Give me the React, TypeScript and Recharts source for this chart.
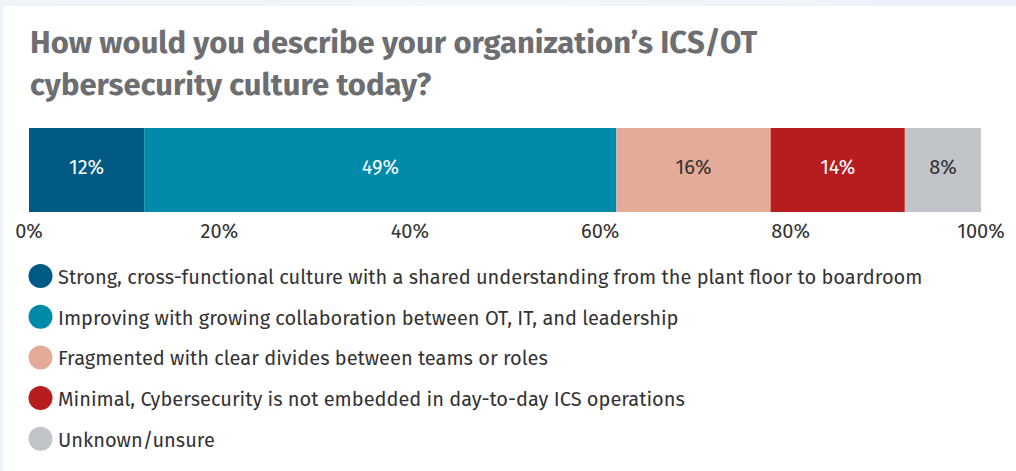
import { BarChart, Bar, XAxis, YAxis, LabelList } from "recharts";

// answer options, in stack order
const options = [
  "Strong, cross-functional culture with a shared understanding from the plant floor to boardroom",
  "Improving with growing collaboration between OT, IT, and leadership",
  "Fragmented with clear divides between teams or roles",
  "Minimal, Cybersecurity is not embedded in day-to-day ICS operations",
  "Unknown/unsure",
];
// share of respondents (%)
const shares = [12.1, 49.6, 16.2, 14.1, 8.0];
// labels as printed on the bar
const shareLabels = ["12%", "49%", "16%", "14%", "8%"];
const xTicks = [0, 20, 40, 60, 80, 100];

const colors = ["#005A84", "#008AAA", "#E4AC98", "#B71D1E", "#C1C4C8"];
const labelColors = ["#ffffff", "#ffffff", "#333333", "#ffffff", "#333333"];

const titleLines = [
  "How would you describe your organization\u2019s ICS/OT",
  "cybersecurity culture today?",
];

const row: Record<string, any> = { name: "culture" };
shares.forEach((v, i) => {
  row[`s${i}`] = v;
});
const data = [row];

const FONT = "'Fira Sans', Lato, 'Open Sans', sans-serif";

export default function App() {
  return (
    <div
      style={{
        position: "absolute",
        left: 0,
        top: 0,
        width: 1016,
        height: 471,
        overflow: "hidden",
        background: "linear-gradient(90deg, #EEF3FA, #F3F6FB 50%, #EBF1FA)",
        fontFamily: FONT,
      }}
    >
      <div
        style={{
          position: "absolute",
          left: 3,
          top: 6,
          right: 0,
          bottom: 0,
          background: "#ffffff",
        }}
      />

      <div style={{ position: "absolute", left: 0, top: 0 }}>
        <BarChart
          width={1016}
          height={252}
          data={data}
          layout="vertical"
          barCategoryGap={0}
          margin={{ top: 128, right: 35, bottom: 0, left: 29 }}
        >
          <XAxis
            type="number"
            domain={[0, 100]}
            ticks={xTicks}
            tickFormatter={(v) => `${v}%`}
            axisLine={false}
            tickLine={false}
            tickMargin={6}
            height={40}
            interval={0}
            tick={{ fill: "#333333", fontSize: 20, fontFamily: FONT }}
          />
          <YAxis type="category" dataKey="name" hide />
          {shares.map((_, i) => (
            <Bar
              key={i}
              dataKey={`s${i}`}
              stackId="a"
              fill={colors[i]}
              isAnimationActive={false}
            >
              <LabelList
                dataKey={`s${i}`}
                position="center"
                formatter={() => shareLabels[i]}
                fill={labelColors[i]}
                fontSize={20}
                fontFamily={FONT}
                dy={-3}
              />
            </Bar>
          ))}
        </BarChart>
      </div>

      <svg
        width={1016}
        height={471}
        style={{ position: "absolute", left: 0, top: 0, pointerEvents: "none" }}
      >
        {titleLines.map((t, i) => (
          <text
            key={t}
            x={30}
            y={53 + i * 42}
            fill="#6D6E71"
            fontSize={31}
            fontWeight={700}
            fontFamily={FONT}
          >
            {t}
          </text>
        ))}
        {options.map((o, i) => (
          <g key={o}>
            <circle cx={40.5} cy={276 + i * 40.7} r={12} fill={colors[i]} />
            <text
              x={58}
              y={284 + i * 40.7}
              fill="#333333"
              fontSize={20}
              fontFamily={FONT}
            >
              {o}
            </text>
          </g>
        ))}
      </svg>
    </div>
  );
}
